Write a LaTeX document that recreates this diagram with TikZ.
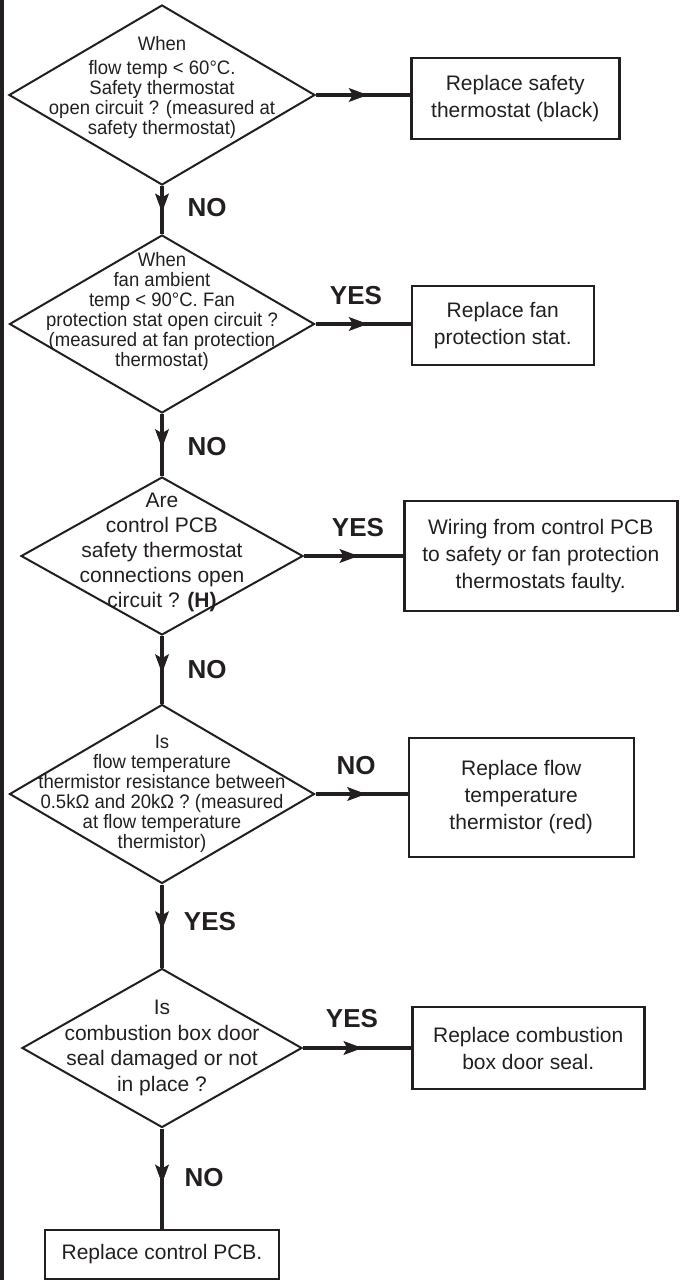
\documentclass[tikz,border=0pt]{standalone}
\usepackage{fontspec}
\setmainfont{Liberation Sans}
\newfontfamily\narrowsf[FakeStretch=0.95]{Liberation Sans}
\usetikzlibrary{arrows.meta,positioning,shapes.geometric,decorations.markings}
\definecolor{ink}{RGB}{35,31,32}
\tikzset{
  decision/.style={diamond, draw=ink, line width=2pt, inner sep=0pt,
               minimum width=306pt, minimum height=180pt},
  qtext/.style={text=ink, align=center, font=\narrowsf\fontsize{19.5}{20}\selectfont},
  qwide/.style={text=ink, align=center, font=\fontsize{21}{25}\selectfont},
  abox/.style={draw=ink, line width=2.5pt, inner sep=0pt, text=ink, align=center,
               font=\fontsize{21}{27}\selectfont},
  answer/.style={text=ink, font=\bfseries\fontsize{26}{26}\selectfont},
  flow/.style={draw=ink, line width=4pt, postaction={decorate},
               decoration={markings, mark=at position 0.55 with {\arrow[line width=1pt]{Stealth[length=19pt,width=14pt,inset=4pt]}}}},
}
\begin{document}
\begin{tikzpicture}[x=1pt, y=-1pt]
        \useasboundingbox (0,0) rectangle (680,1280);
        \draw[ink, line width=3.5pt] (1.75,0) -- (1.75,1280);
        % decisions
        \node[decision, label={[qtext, yshift=8pt]center:{When\\[4pt]flow temp < 60°C.\\Safety thermostat\\open circuit ? (measured at\\safety thermostat)}}] (d1) at (162,95) {};
        \node[decision, minimum width=305pt, minimum height=178pt, label={[qtext, yshift=13pt]center:{When\\fan ambient\\temp < 90°C. Fan\\protection stat open circuit ?\\(measured at fan protection\\thermostat)}}] (d2) at (162,324) {};
        \node[decision, minimum width=282pt, minimum height=158pt, label={[qwide, yshift=4pt]center:{Are\\control PCB\\safety thermostat\\connections open\\circuit ? \textbf{(H)}}}] (d3) at (162,556) {};
        \node[decision, minimum width=305pt, minimum height=179pt, label={[qtext]center:{Is\\flow temperature\\thermistor resistance between\\0.5kΩ and 20kΩ ? (measured\\at flow temperature\\thermistor)}}] (d4) at (162,794) {};
        \node[decision, minimum width=280pt, minimum height=159pt, label={[qwide, font=\fontsize{21}{25.5}\selectfont]center:{Is\\combustion box door\\seal damaged or not\\in place ?}}] (d5) at (162,1048) {};
        % actions
        \node[abox, right=94pt of d1, yshift=-3.5pt, minimum width=208pt, minimum height=81pt] (b1) {Replace safety\\thermostat (black)};
        \node[abox, right=95pt of d2, yshift=-1.5pt, minimum width=182pt, minimum height=79pt] (b2) {Replace fan\\protection stat.};
        \node[abox, right=99pt of d3, minimum width=273pt, minimum height=110pt] (b3) {Wiring from control PCB\\to safety or fan protection\\thermostats faulty.};
        \node[abox, right=92pt of d4, yshift=-3.5pt, minimum width=225pt, minimum height=119pt] (b4) {Replace flow\\temperature\\thermistor (red)};
        \node[abox, right=108pt of d5, minimum width=232pt, minimum height=82pt] (b5) {Replace combustion\\box door seal.};
        \node[abox, below=100pt of d5, minimum width=234pt, minimum height=49pt] (b6) {Replace control PCB.};
        % answers
        \node[answer] (no1) at (207,208) {NO};
        \node[answer] (yes2) at (356,296) {YES};
        \node[answer] (no2) at (207,447) {NO};
        \node[answer] (yes3) at (358,528) {YES};
        \node[answer] (no3) at (207,670) {NO};
        \node[answer] (no4) at (356,766) {NO};
        \node[answer] (yes4) at (210,922) {YES};
        \node[answer] (yes5) at (352,1019) {YES};
        \node[answer] (no5) at (204,1178) {NO};
        \draw[flow] (d1.south)--(d2.north); \draw[flow] (d2.south)--(d3.north); \draw[flow] (d3.south)--(d4.north);
        \draw[flow] (d4.south)--(d5.north); \draw[flow] (d5.south)--(b6.north);
        \draw[flow] (d1.east)--(d1.east-|b1.west); \draw[flow] (d2.east)--(d2.east-|b2.west); \draw[flow] (d3.east)--(b3.west);
        \draw[flow] (d4.east)--(d4.east-|b4.west); \draw[flow] (d5.east)--(b5.west);
      \end{tikzpicture}
\end{document}
